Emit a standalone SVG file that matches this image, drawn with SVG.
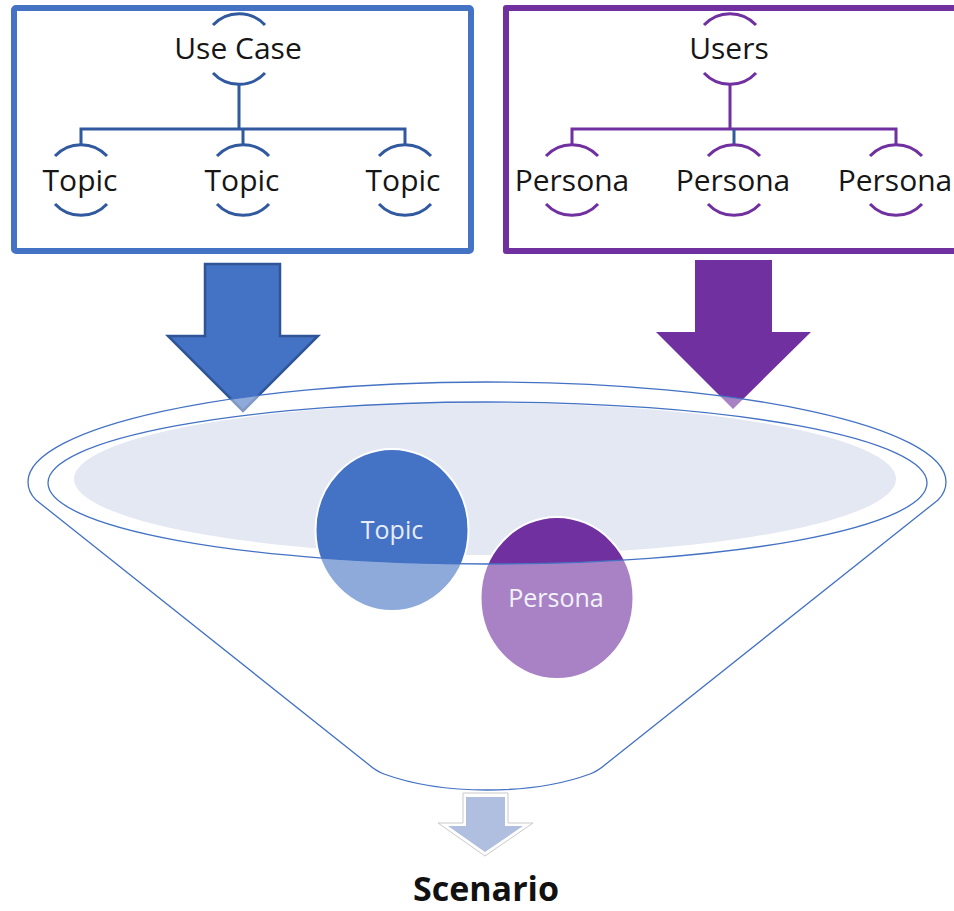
<svg xmlns="http://www.w3.org/2000/svg" width="954" height="911" viewBox="0 0 954 911">
<style>
text{font-family:"Open Sans","Noto Sans","Liberation Sans",sans-serif;text-anchor:middle}
.lbl{font-size:30px;fill:#161616}
.in{font-size:25px;fill:#e8ecf6}
.blue{fill:none;stroke:#30599f;stroke-width:3}
.pur{fill:none;stroke:#7030a0;stroke-width:3}
.fl{stroke:#4472c4;stroke-width:1.3}
</style>
<defs>
<g id="arcs"><path d="M-26-24A35.500 35.500 0 0 1 26-24M-26 24A35.500 35.500 0 0 0 26 24"/></g>
</defs>
<rect width="954" height="911" fill="#fff"/>
<g id="connectors">
<path class="blue" d="M239 84V129M81 144V129H405V144M243 129V144"/>
<path class="pur" d="M730 84V129M572 144V129H896V144"/>
<path d="M734 129V144" fill="none" stroke="#30599f" stroke-width="3"/>
</g>
<g id="use-case-box"><rect x="14" y="8" width="457" height="243" rx="2" fill="none" stroke="#4472c4" stroke-width="6"/></g>
<g id="users-box"><path d="M960 8H506V251H960" fill="none" stroke="#7030a0" stroke-width="6" stroke-linejoin="round"/></g>
<g id="use-case"><use href="#arcs" class="blue" x="239" y="49"/><text class="lbl" x="238" y="59">Use Case</text></g>
<g id="topic-1"><use href="#arcs" class="blue" x="81" y="180"/><text class="lbl" x="80" y="191">Topic</text></g>
<g id="topic-2"><use href="#arcs" class="blue" x="243" y="180"/><text class="lbl" x="242" y="191">Topic</text></g>
<g id="topic-3"><use href="#arcs" class="blue" x="405" y="180"/><text class="lbl" x="403" y="191">Topic</text></g>
<g id="users"><use href="#arcs" class="pur" x="730" y="49"/><text class="lbl" x="729" y="59">Users</text></g>
<g id="persona-1"><use href="#arcs" class="pur" x="572" y="180"/><text class="lbl" x="572" y="191">Persona</text></g>
<g id="persona-2"><use href="#arcs" class="pur" x="734" y="180"/><text class="lbl" x="733" y="191">Persona</text></g>
<g id="persona-3"><use href="#arcs" class="pur" x="896" y="180"/><text class="lbl" x="895" y="191">Persona</text></g>
<g id="arrow-blue"><path d="M205 264H280V336H318L243 411L168 336H205Z" fill="#4472c4" stroke="#2f5597" stroke-width="2.500"/></g>
<g id="arrow-purple"><path d="M695 260H772V332H811L733 409L656 332H695Z" fill="#7030a0"/></g>
<g id="funnel-back"><ellipse cx="485" cy="479" rx="411" ry="76" fill="#e4e8f3"/></g>
<g id="circle-topic"><ellipse cx="392" cy="530" rx="76.500" ry="81" fill="#4472c4" stroke="#fff" stroke-width="2"/><text class="in" x="392" y="539">Topic</text></g>
<g id="circle-persona"><ellipse cx="557" cy="598" rx="76.500" ry="81" fill="#7030a0" stroke="#fff" stroke-width="2"/><text class="in" x="556" y="607">Persona</text></g>
<g id="funnel">
<path fill="#fff" fill-opacity=".4" fill-rule="evenodd" d="M28 482C28 427 233 382 487 382S946 427 946 482C946 490 943 495 938 500L606 764Q598 771 590 774C560 785 525 790 487 790S414 785 384 774Q376 771 368 764L36 500C31 495 28 490 28 482ZM48 483C48 528 245 564 487 564S927 528 927 483S729 402 487 402S48 438 48 483Z"/>
<path class="fl" fill="none" d="M28 482C28 427 233 382 487 382S946 427 946 482C946 490 943 495 938 500L606 764Q598 771 590 774C560 785 525 790 487 790S414 785 384 774Q376 771 368 764L36 500C31 495 28 490 28 482Z"/>
<ellipse class="fl" fill="none" cx="487.500" cy="483" rx="439.500" ry="81"/>
</g>
<g id="arrow-scenario">
<path d="M463 793H508V823H533L485 856L438 823H463Z" fill="#fff" stroke="#c9c9c9" stroke-width="1"/>
<path d="M466 797H505V826H523L485 852L448 826H466Z" fill="#b0bee0"/>
</g>
<g id="scenario"><text x="486" y="900.500" font-size="34" font-weight="700" fill="#111">Scenario</text></g>
</svg>
